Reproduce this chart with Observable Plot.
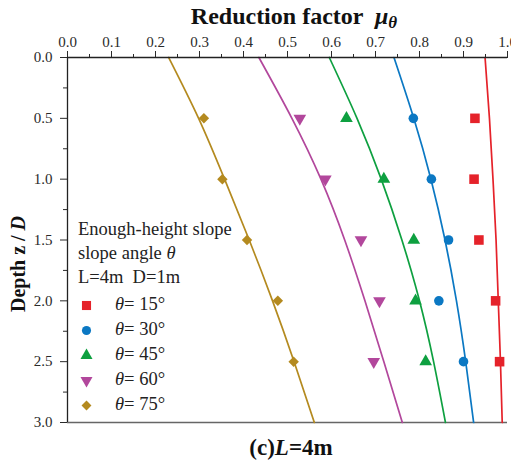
<!DOCTYPE html>
<html>
<head>
<meta charset="utf-8">
<script src="https://cdn.jsdelivr.net/npm/d3@7"></script>
<script src="https://cdn.jsdelivr.net/npm/@observablehq/plot@0.6"></script>
<style>
  html, body { margin: 0; padding: 0; background: #fff; }
  #chart { width: 511px; height: 462px; }
</style>
</head>
<body>
<div id="chart"></div>
<script>
// ---- data ----
const angles = [15, 30, 45, 60, 75];
const curveDepth = [0, 0.5, 1.0, 1.5, 2.0, 2.5, 3.0];
const pointDepth = [0.5, 1.0, 1.5, 2.0, 2.5];
const curve15 = [0.949, 0.959, 0.967, 0.974, 0.979, 0.984, 0.988];
const curve30 = [0.742, 0.787, 0.826, 0.858, 0.884, 0.905, 0.923];
const curve45 = [0.595, 0.658, 0.713, 0.760, 0.800, 0.832, 0.859];
const curve60 = [0.435, 0.510, 0.576, 0.630, 0.676, 0.719, 0.761];
const curve75 = [0.230, 0.298, 0.357, 0.413, 0.466, 0.515, 0.561];
const pts15 = [0.926, 0.924, 0.935, 0.973, 0.982];
const pts30 = [0.786, 0.827, 0.866, 0.844, 0.900];
const pts45 = [0.634, 0.719, 0.787, 0.791, 0.814];
const pts60 = [0.528, 0.586, 0.667, 0.709, 0.696];
const pts75 = [0.310, 0.352, 0.408, 0.478, 0.514];
const xTicks = [0, 0.1, 0.2, 0.3, 0.4, 0.5, 0.6, 0.7, 0.8, 0.9, 1.0];
const xMinorTicks = [0.05, 0.15, 0.25, 0.35, 0.45, 0.55, 0.65, 0.75, 0.85, 0.95];
const yTicks = [0, 0.5, 1.0, 1.5, 2.0, 2.5, 3.0];
const yMinorTicks = [0.25, 0.75, 1.25, 1.75, 2.25, 2.75];
const legendHeader = ["Enough-height slope", "slope angle ", "L=4m  D=1m"];

// ---- styles ----
const colors = ["#e5222a", "#0b78c3", "#0ea040", "#b2479c", "#b48a1f"];
const triangleDown = {
  draw(context, size) {
    const y = -Math.sqrt(size / (Math.sqrt(3) * 3));
    context.moveTo(0, -y * 2);
    context.lineTo(-Math.sqrt(3) * y, y);
    context.lineTo(Math.sqrt(3) * y, y);
    context.closePath();
  }
};
const symbols = [d3.symbolSquare, d3.symbolCircle, d3.symbolTriangle, triangleDown, d3.symbolDiamond2];
const radii = [5.4, 4.8, 4.7, 4.7, 4.7];

const curves = [curve15, curve30, curve45, curve60, curve75];
const pts = [pts15, pts30, pts45, pts60, pts75];

const curveRows = angles.flatMap((a, i) => curveDepth.map((d, j) => ({angle: a, depth: d, mu: curves[i][j]})));
const pointRows = angles.map((a, i) => pointDepth.map((d, j) => ({angle: a, depth: d, mu: pts[i][j]})));

const W = 511, H = 462;
const mL = 67, mR = 4, mT = 57, mB = 40;

const marks = [
  Plot.ruleY([3], {stroke: "#666", strokeWidth: 1.6}),
  Plot.line(curveRows, {x: "mu", y: "depth", z: "angle", stroke: d => colors[angles.indexOf(d.angle)], strokeWidth: 1.7, curve: "natural"}),
  ...pointRows.map((rows, i) => Plot.dot(rows, {x: "mu", y: "depth", fill: colors[i], stroke: "none", symbol: symbols[i], r: radii[i]})),
  // legend symbols
  ...angles.map((a, i) => Plot.dot([a], {frameAnchor: "top-left", dx: 19, dy: 248 + i * 25, fill: colors[i], stroke: "none", symbol: symbols[i], r: radii[i] * 0.95})),
  Plot.axisX({anchor: "top", ticks: xTicks, tickSize: 7, tickPadding: 4, tickFormat: d3.format(".1f"), label: null, fontSize: 15}),
  Plot.axisX({anchor: "top", ticks: xMinorTicks, tickSize: 4, tickFormat: () => "", label: null}),
  Plot.axisY({anchor: "left", ticks: yTicks, tickSize: 7, tickPadding: 8, tickFormat: d3.format(".1f"), label: null, fontSize: 15}),
  Plot.axisY({anchor: "left", ticks: yMinorTicks, tickSize: 4, tickFormat: () => "", label: null}),
  Plot.ruleY([0], {stroke: "#222", strokeWidth: 1.3}),
  Plot.ruleX([0], {stroke: "#222", strokeWidth: 1.3})
];

const svg = Plot.plot({
  width: W, height: H,
  marginLeft: mL, marginRight: mR, marginTop: mT, marginBottom: mB,
  x: {domain: [0, 1]},
  y: {domain: [0, 3], reverse: true},
  style: {fontFamily: "'Liberation Serif', 'Times New Roman', serif", fontSize: "15px", color: "#2a2a2a", background: "#fff", overflow: "visible"},
  marks
});

const s = d3.select(svg);
const serif = "'Liberation Serif', 'Times New Roman', serif";

// Top title
const t = s.append("text").attr("x", 294).attr("y", 24).attr("text-anchor", "middle")
  .attr("font-family", serif).attr("font-size", 24).attr("font-weight", "bold").attr("fill", "#111");
t.append("tspan").text("Reduction factor  ");
t.append("tspan").attr("font-style", "italic").text("μ");
t.append("tspan").attr("font-style", "italic").attr("font-size", 17).attr("dy", 4).text("θ");

// Y label
const yl = s.append("text").attr("transform", "translate(25,264) rotate(-90)").attr("text-anchor", "middle")
  .attr("font-family", serif).attr("font-size", 20).attr("font-weight", "bold").attr("fill", "#111");
yl.append("tspan").text("Depth z / ");
yl.append("tspan").attr("font-style", "italic").text("D");

// Caption
const cap = s.append("text").attr("x", 291).attr("y", 455).attr("text-anchor", "middle")
  .attr("font-family", serif).attr("font-size", 23).attr("font-weight", "bold").attr("fill", "#111");
cap.append("tspan").text("(c)");
cap.append("tspan").attr("font-style", "italic").text("L");
cap.append("tspan").text("=4m");

// Legend text
const lg = s.append("g").attr("font-family", serif).attr("font-size", 18.5).attr("fill", "#222").attr("text-anchor", "start");
legendHeader.forEach((txt, i) => {
  const el = lg.append("text").attr("x", 78).attr("y", 235 + i * 24).style("white-space", "pre");
  el.append("tspan").text(txt);
  if (i === 1) el.append("tspan").attr("font-style", "italic").text("θ");
});
angles.forEach((a, i) => {
  const el = lg.append("text").attr("x", 115).attr("y", 310 + i * 25).style("white-space", "pre");
  el.append("tspan").attr("font-style", "italic").text("θ");
  el.append("tspan").text("= " + a + "°");
});

document.getElementById("chart").appendChild(svg);
</script>
</body>
</html>
